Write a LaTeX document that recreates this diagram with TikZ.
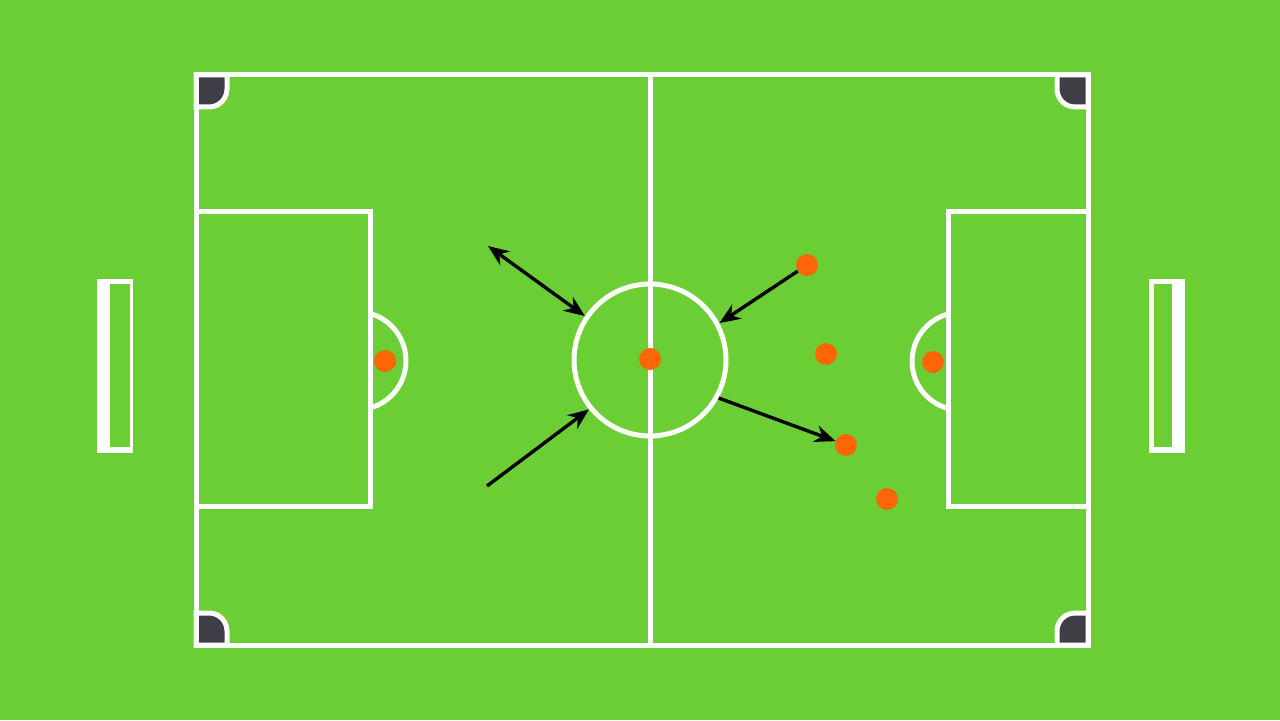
\documentclass[tikz,border=0pt]{standalone}
\usepackage{amsmath,amssymb}
\usetikzlibrary{arrows.meta}
\definecolor{pitchgreen}{RGB}{107,206,52}
\definecolor{flagdark}{RGB}{62,62,70}
\definecolor{playerorange}{RGB}{255,102,8}
\begin{document}
\begin{tikzpicture}[x=0.05cm,y=0.05cm,
    pitchline/.style={draw=white,line width=0.25cm},
    player/.style={circle,fill=playerorange,inner sep=0pt,minimum size=1.1cm},
    kick/.style={draw=black,line width=0.17cm,-{Stealth[length=1.05cm,width=0.85cm]}}]
        \fill[color=pitchgreen] (0,0) rectangle (1280,720);
        \useasboundingbox (0,0) rectangle (1280,720);
        % corners
        \filldraw[fill=flagdark,pitchline] (196,645)--(227,645)--(227,631) arc[start angle=0,end angle=-90,radius=18]--(196,613)--cycle;
        \filldraw[fill=flagdark,pitchline] (1088,645)--(1057,645)--(1057,631) arc[start angle=180,end angle=270,radius=18]--(1088,613)--cycle;
        \filldraw[fill=flagdark,pitchline] (196,75)--(227,75)--(227,89) arc[start angle=0,end angle=90,radius=18]--(196,107)--cycle;
        \filldraw[fill=flagdark,pitchline] (1088,75)--(1057,75)--(1057,89) arc[start angle=180,end angle=90,radius=18]--(1088,107)--cycle;
        \draw[pitchline] (196,75) rectangle (1088,645);
        \draw[pitchline] (650,75)--(650,645);
        \draw[pitchline] (196,213) rectangle (370,508);
        \draw[pitchline] (948,213) rectangle (1088,508);
        \draw[pitchline] (370,312) arc[start angle=-74.6,end angle=74.6,radius=49];
        \draw[pitchline] (948,406) arc[start angle=105.4,end angle=254.6,radius=49];
        % goals
        \fill[white] (97,267) rectangle (133,441);
        \fill[pitchgreen] (110,273) rectangle (130,436);
        \fill[white] (1149,267) rectangle (1185,441);
        \fill[pitchgreen] (1154,273) rectangle (1172,436);
        \node[circle,draw=white,line width=0.25cm,inner sep=0pt,minimum size=7.6cm] (cc) at (650,360) {};
        \node[player] (p1) at (385,359) {};
        \node[player] (p2) at (650,361) {};
        \node[player] (p3) at (807,455) {};
        \node[player] (p4) at (826,366) {};
        \node[player] (p5) at (933,358) {};
        \node[player] (p6) at (846,275) {};
        \node[player] (p7) at (887,221) {};
        \coordinate (a1) at (488,474);
        \coordinate (a2) at (487,234);
        \draw[kick,{Stealth[length=1.05cm,width=0.85cm]}-{Stealth[length=1.05cm,width=0.85cm]}] (a1)--(cc.146);
        \draw[kick] (a2)--(cc.219);
        \draw[kick] (p3)--(cc.28);
        \draw[kick] (cc.331)--(p6);
    \end{tikzpicture}
\end{document}
